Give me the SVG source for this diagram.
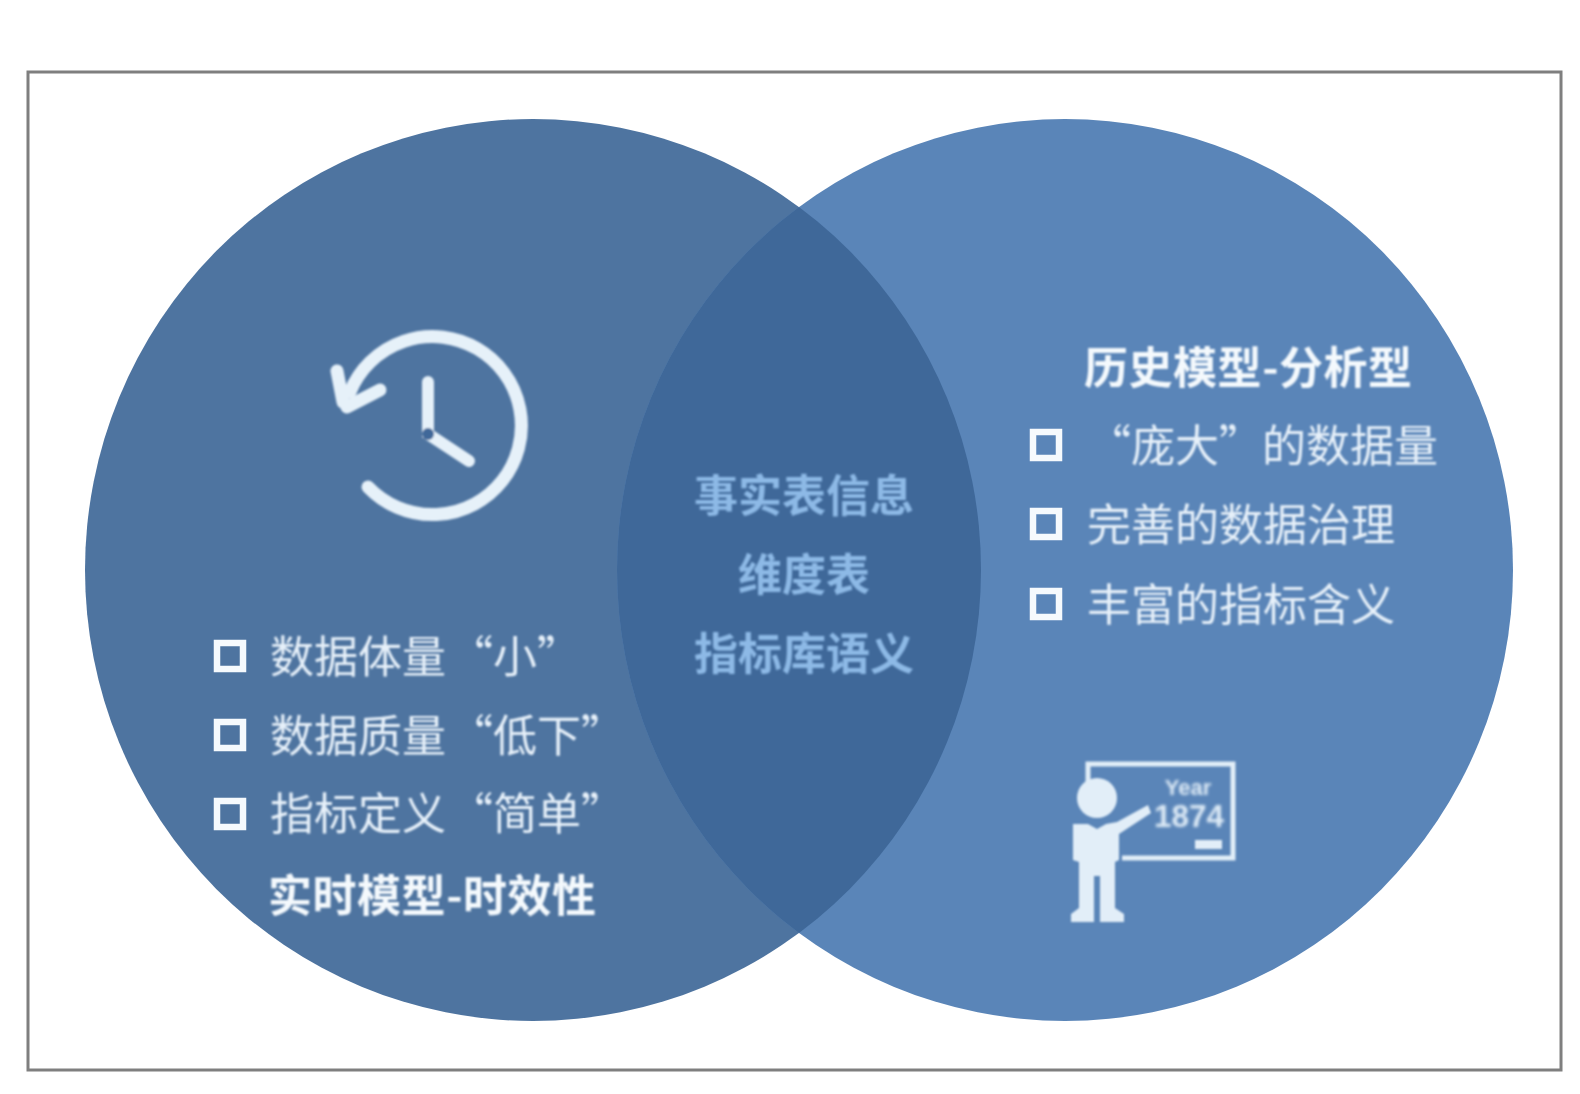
<svg xmlns="http://www.w3.org/2000/svg" width="1580" height="1094" viewBox="0 0 1580 1094">
<style>
text{font-family:"Noto Sans CJK SC","Liberation Sans",sans-serif;filter:url(#soft)}
.item{font-size:44px;fill:#e6f0f9;font-weight:400}
.head{font-size:44px;fill:#f4f9fd;font-weight:700}
.mid{font-size:44px;fill:#8db9e6;font-weight:700;text-anchor:middle}
.box{fill:none;stroke:#f6fafd;stroke-width:6.5}
.ic{fill:none;stroke:#e6f1f9;stroke-linecap:round}
.fill{fill:#e2eef8}
</style>
<defs>
<filter id="soft" x="-5%" y="-20%" width="110%" height="140%"><feGaussianBlur stdDeviation="0.9"/></filter>
<clipPath id="leftClip"><ellipse cx="533" cy="570" rx="448" ry="451"/></clipPath>
</defs>
<rect width="1580" height="1094" fill="#fff"/>
<rect x="28" y="72" width="1533" height="998" fill="#fff" stroke="#7f7f7f" stroke-width="3"/>
<g id="node-realtime">
<ellipse cx="533" cy="570" rx="448" ry="451" fill="#4e74a0"/>
<g id="clock-icon" filter="url(#soft)">
<path class="ic" stroke-width="13" d="M368 487A89 89 0 1 0 350 392"/>
<path class="ic" stroke-width="12" d="M428 382V434L469 461"/>
<path class="ic" stroke-width="13" d="M337 371L343 402"/>
<path class="ic" stroke-width="13" d="M347 407L380 390"/>
<circle cx="428" cy="434" r="6" fill="#3f6899"/>
</g>
<rect class="box" x="217" y="643" width="26" height="26"/>
<rect class="box" x="217" y="722" width="26" height="26"/>
<rect class="box" x="217" y="801" width="26" height="26"/>
<text class="item" x="270" y="673">数据体量</text>
<text class="item" x="449" y="673">“小”</text>
<text class="item" x="270" y="752">数据质量</text>
<text class="item" x="449" y="752">“低下”</text>
<text class="item" x="270" y="830">指标定义</text>
<text class="item" x="449" y="830">“简单”</text>
<text class="head" x="268" y="912" textLength="328" lengthAdjust="spacing">实时模型-时效性</text>
</g>
<g id="node-history">
<ellipse cx="1065" cy="570" rx="448" ry="451" fill="#5a85b8"/>
<text class="head" x="1084" y="384" textLength="328" lengthAdjust="spacing">历史模型-分析型</text>
<rect class="box" x="1033" y="432" width="26" height="26"/>
<rect class="box" x="1033" y="511" width="26" height="26"/>
<rect class="box" x="1033" y="591" width="26" height="26"/>
<text class="item" x="1087" y="462">“庞大”</text>
<text class="item" x="1262" y="462">的数据量</text>
<text class="item" x="1087" y="541">完善的数据治理</text>
<text class="item" x="1087" y="621">丰富的指标含义</text>
<g id="teacher-icon" filter="url(#soft)">
<path d="M1088 784V764H1233V858H1122" fill="none" stroke="#e2eef8" stroke-width="5"/>
<circle class="fill" cx="1097" cy="798" r="20"/>
<path class="fill" d="M1073 824L1088 824L1097 829L1106 824L1117 822L1148 805L1151 813L1119 834V860L1115 862V908L1124 914V922H1100V876H1094V922H1071V914L1079 908V862L1073 860Z"/>
<text x="1188" y="795" text-anchor="middle" style="font-family:'Liberation Sans',sans-serif;font-size:22px;font-weight:700;fill:#dfecf7">Year</text>
<text x="1154" y="827" textLength="70" lengthAdjust="spacingAndGlyphs" style="font-family:'Liberation Sans',sans-serif;font-size:31px;font-weight:700;fill:#dfecf7">1874</text>
<rect class="fill" x="1195" y="840" width="27" height="9"/>
</g>
</g>
<g id="node-overlap">
<ellipse cx="1065" cy="570" rx="448" ry="451" fill="#3f6899" clip-path="url(#leftClip)"/>
<text class="mid" x="804" y="512">事实表信息</text>
<text class="mid" x="804" y="591">维度表</text>
<text class="mid" x="804" y="670">指标库语义</text>
</g>
<g id="connectors"/>
</svg>
